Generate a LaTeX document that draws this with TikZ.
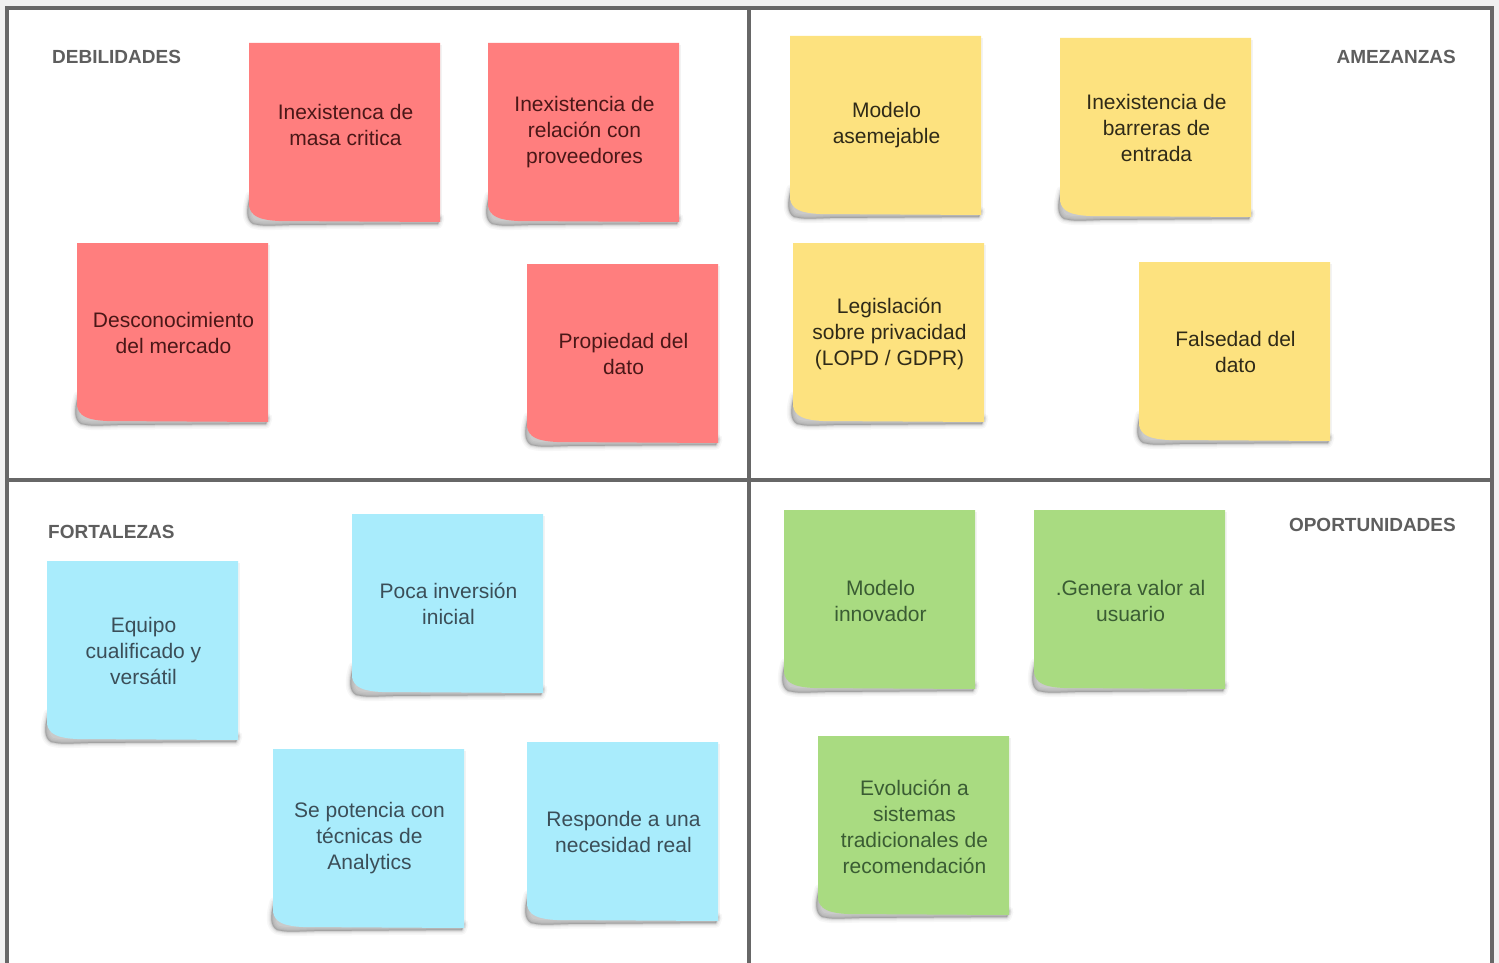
\documentclass[tikz,border=0pt]{standalone}
\usepackage{fontspec}
\setmainfont{Liberation Sans}
\usetikzlibrary{calc}

\definecolor{pagebg}{HTML}{F1F1F1}
\definecolor{framegray}{HTML}{676767}
\definecolor{titlegray}{HTML}{5E5E5E}
\definecolor{redpaper}{HTML}{FF7E7E}
\definecolor{redink}{HTML}{4A1717}
\definecolor{yellowpaper}{HTML}{FDE27F}
\definecolor{yellowink}{HTML}{2F2A18}
\definecolor{bluepaper}{HTML}{A9ECFC}
\definecolor{blueink}{HTML}{3B4E58}
\definecolor{greenpaper}{HTML}{A9DB81}
\definecolor{greenink}{HTML}{3A5C33}
\definecolor{shadowgray}{HTML}{3A3A3A}

\tikzset{
  notetext/.style={align=center, inner sep=0pt, font=\fontsize{21}{26}\selectfont},
  quadtitle/.style={inner sep=0pt, text=titlegray, font=\fontsize{19}{22}\selectfont\bfseries},
  gridline/.style={draw=framegray, line width=4pt},
}

% sticky note: name, left x, top y, paper colour, ink colour, text shift, text
\newcommand\stickynote[7]{%
  \pgfmathsetmacro\nxa{#2}\pgfmathsetmacro\nya{#3}%
  \pgfmathsetmacro\nxb{#2+191}\pgfmathsetmacro\nyb{#3+179}%
  % soft shadow under the curled bottom edge
  \foreach \op/\lw in {0.04/9,0.05/6,0.08/3.5,0.12/1.5}{%
    \filldraw[shadowgray, opacity=\op, line width=\lw pt, line join=round]
      (\nxa+1,\nyb-26) .. controls (\nxa-3,\nyb-12) and (\nxa-3,\nyb-2) .. (\nxa+4,\nyb+2)
      .. controls (\nxa+14,\nyb+4) .. (\nxa+40,\nyb+3)
      -- (\nxb-2,\nyb+2) -- (\nxb,\nyb-4) -- (\nxa+30,\nyb-6) -- cycle;
  }
  % faint edge along the right side
  \fill[shadowgray, opacity=0.06] (\nxb,\nya+2) rectangle (\nxb+2,\nyb);
  % paper
  \fill[#4] (\nxa,\nyb-16) -- (\nxa,\nya) -- (\nxb,\nya) -- (\nxb,\nyb)
    -- (\nxa+30,\nyb-1) .. controls (\nxa+10,\nyb-2) and (\nxa+2,\nyb-6) .. (\nxa,\nyb-16) -- cycle;
  \node[notetext, text=#5] (#1) at (\nxa+96.5,\nya+89.5+#6) {#7};
}

\begin{document}
\begin{tikzpicture}[x=1pt, y=-1pt]
  \useasboundingbox (0,0) rectangle (1499,963);
  \fill[pagebg] (0,0) rectangle (1499,963);
  \fill[white] (7,8) rectangle (1492,963);

  % quadrant frame
  \draw[gridline] (7,975) -- (7,8) -- (1492,8) -- (1492,975);
  \draw[gridline] (749,8) -- (749,975);
  \draw[gridline] (7,480) -- (1492,480);

  % quadrant titles
  \node[quadtitle, anchor=west] (tdeb) at (52,57) {DEBILIDADES};
  \node[quadtitle, anchor=east] (tame) at (1456,57) {AMEZANZAS};
  \node[quadtitle, anchor=west] (tfor) at (48,532) {FORTALEZAS};
  \node[quadtitle, anchor=east] (topo) at (1456,525) {OPORTUNIDADES};

  % weaknesses
  \stickynote{d1}{249}{43}{redpaper}{redink}{-8}{Inexistenca de\\masa critica}
  \stickynote{d2}{488}{43}{redpaper}{redink}{0}{Inexistencia de\\relación con\\proveedores}
  \stickynote{d3}{77}{243}{redpaper}{redink}{0}{Desconocimiento\\del mercado}
  \stickynote{d4}{527}{264}{redpaper}{redink}{0}{Propiedad del\\dato}

  % threats
  \stickynote{a1}{790}{36}{yellowpaper}{yellowink}{0}{Modelo\\asemejable}
  \stickynote{a2}{1060}{38}{yellowpaper}{yellowink}{0}{Inexistencia de\\barreras de\\entrada}
  \stickynote{a3}{793}{243}{yellowpaper}{yellowink}{1}{Legislación\\sobre privacidad\\(LOPD / GDPR)}
  \stickynote{a4}{1139}{262}{yellowpaper}{yellowink}{0}{Falsedad del\\dato}

  % strengths
  \stickynote{f1}{47}{561}{bluepaper}{blueink}{0}{Equipo\\cualificado y\\versátil}
  \stickynote{f2}{352}{514}{bluepaper}{blueink}{0}{Poca inversión\\inicial}
  \stickynote{f3}{273}{749}{bluepaper}{blueink}{0}{Se potencia con\\técnicas de\\Analytics}
  \stickynote{f4}{527}{742}{bluepaper}{blueink}{0}{Responde a una\\necesidad real}

  % opportunities
  \stickynote{o1}{784}{510}{greenpaper}{greenink}{1}{Modelo\\innovador}
  \stickynote{o2}{1034}{510}{greenpaper}{greenink}{1}{.Genera valor al\\usuario}
  \stickynote{o3}{818}{736}{greenpaper}{greenink}{1}{Evolución a\\sistemas\\tradicionales de\\recomendación}
\end{tikzpicture}
\end{document}
